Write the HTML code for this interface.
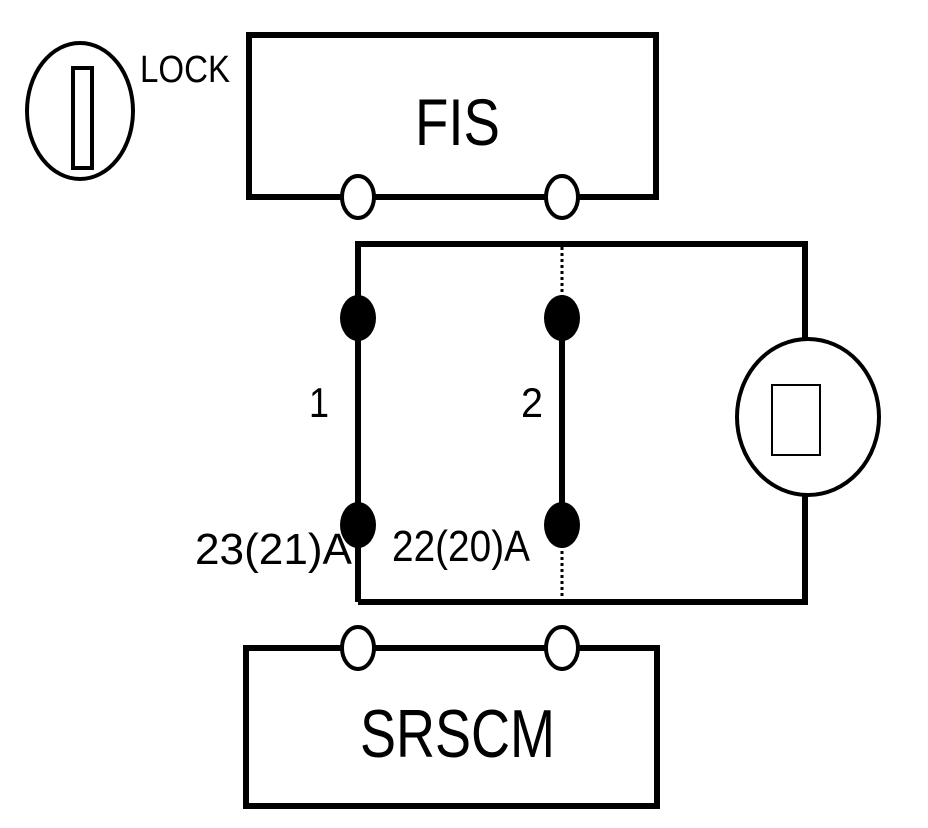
<!DOCTYPE html>
<html><head><style>body{margin:0;background:#fff}svg{display:block}text{font-family:"Liberation Sans",sans-serif;fill:#000}</style></head><body>
<svg width="928" height="828" viewBox="0 0 928 828" xmlns="http://www.w3.org/2000/svg">
<g fill="none" stroke="#000" stroke-width="6">
<ellipse cx="80" cy="111" rx="53" ry="68" stroke-width="4"/>
<rect x="73" y="68" width="19" height="100" stroke-width="4"/>
<rect x="249" y="35" width="407" height="162"/>
<rect x="246" y="648" width="411" height="158"/>
<polyline points="358,602 358,244 805,244 805,340"/>
<polyline points="805,494 805,602 358,602"/>
<line x1="562" y1="318" x2="562" y2="525"/>
<line x1="562" y1="247" x2="562" y2="300" stroke-width="3" stroke-dasharray="3,3"/>
<line x1="562" y1="545" x2="562" y2="599" stroke-width="3" stroke-dasharray="3,3"/>
<ellipse cx="808" cy="417" rx="71" ry="78" stroke-width="4"/>
<rect x="772" y="385" width="48" height="70" stroke-width="2"/>
</g>
<g fill="#fff" stroke="#000" stroke-width="4">
<ellipse cx="358" cy="197" rx="16" ry="21"/><ellipse cx="562" cy="197" rx="16" ry="21"/>
<ellipse cx="358" cy="648" rx="16" ry="21"/><ellipse cx="562" cy="648" rx="16" ry="21"/>
</g>
<g fill="#000">
<ellipse cx="358" cy="318" rx="18" ry="23"/><ellipse cx="562" cy="318" rx="18" ry="23"/>
<ellipse cx="358" cy="525" rx="18" ry="23"/><ellipse cx="562" cy="525" rx="18" ry="23"/>
</g>
<text x="140" y="82" font-size="38" textLength="90" lengthAdjust="spacingAndGlyphs">LOCK</text>
<text x="415" y="145" font-size="66" textLength="85" lengthAdjust="spacingAndGlyphs">FIS</text>
<text x="360" y="757" font-size="68" textLength="195" lengthAdjust="spacingAndGlyphs">SRSCM</text>
<text x="309" y="417" font-size="42" textLength="20" lengthAdjust="spacingAndGlyphs">1</text>
<text x="521" y="417" font-size="42" textLength="22" lengthAdjust="spacingAndGlyphs">2</text>
<text x="195" y="564" font-size="44" textLength="157" lengthAdjust="spacingAndGlyphs">23(21)A</text>
<text x="392" y="561" font-size="44" textLength="138" lengthAdjust="spacingAndGlyphs">22(20)A</text>
</svg>
</body></html>
